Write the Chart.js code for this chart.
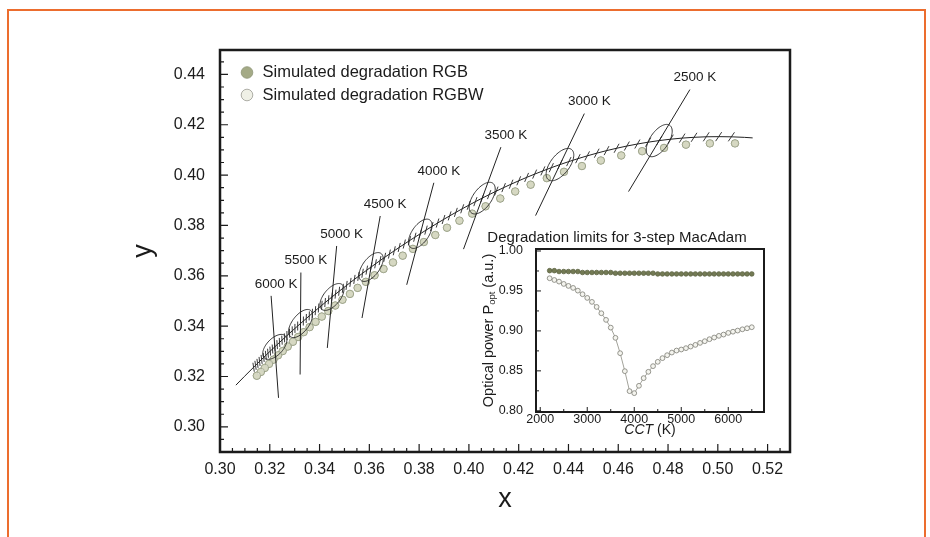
<!DOCTYPE html>
<html>
<head>
<meta charset="utf-8">
<script src="https://cdn.jsdelivr.net/npm/chart.js@4.4.0/dist/chart.umd.min.js"></script>
<style>
  html, body { margin: 0; padding: 0; background: #fff; }
  #page { position: relative; width: 930px; height: 537px; overflow: hidden; }
  #frame { position: absolute; left: 7px; top: 9px; width: 915px; height: 600px; border: 2px solid #ec6d2e; border-bottom: none; z-index: 5; pointer-events: none; }
  #main { position: absolute; left: 0; top: 0; }
  #inset { position: absolute; left: 470px; top: 220px; }
</style>
</head>
<body>
<div id="page">
  <canvas id="main" width="930" height="537"></canvas>
  <canvas id="inset" width="376" height="225"></canvas>
  <div id="frame"></div>
</div>
<script>
// Planckian locus (CIE 1931 x, y), 50 K steps, plus the two end points of the drawn line
const locusCct = [
  2100, 2150, 2200, 2250, 2300, 2350, 2400, 2450, 2500, 2550, 2600, 2650, 2700, 2750, 2800, 2850,
  2900, 2950, 3000, 3050, 3100, 3150, 3200, 3250, 3300, 3350, 3400, 3450, 3500, 3550, 3600, 3650,
  3700, 3750, 3800, 3850, 3900, 3950, 4000, 4050, 4100, 4150, 4200, 4250, 4300, 4350, 4400, 4450,
  4500, 4550, 4600, 4650, 4700, 4750, 4800, 4850, 4900, 4950, 5000, 5050, 5100, 5150, 5200, 5250,
  5300, 5350, 5400, 5450, 5500, 5550, 5600, 5650, 5700, 5750, 5800, 5850, 5900, 5950, 6000, 6050,
  6100, 6150, 6200, 6250, 6300, 6350, 6400, 6450, 6500, 6750, 7000
];
const locusX = [
  0.51400, 0.51066, 0.50545, 0.50034, 0.49534, 0.49045, 0.48568, 0.48101, 0.47646, 0.47201, 0.46768, 0.46344, 0.45932, 0.45529, 0.45136, 0.44752,
  0.44379, 0.44014, 0.43658, 0.43311, 0.42972, 0.42641, 0.42318, 0.42003, 0.41695, 0.41395, 0.41101, 0.40814, 0.40534, 0.40260, 0.39993, 0.39731,
  0.39475, 0.39225, 0.38980, 0.38741, 0.38507, 0.38277, 0.38046, 0.37827, 0.37613, 0.37404, 0.37200, 0.37001, 0.36806, 0.36616, 0.36430, 0.36249,
  0.36071, 0.35897, 0.35728, 0.35562, 0.35400, 0.35241, 0.35086, 0.34935, 0.34786, 0.34641, 0.34499, 0.34360, 0.34224, 0.34091, 0.33961, 0.33833,
  0.33708, 0.33586, 0.33466, 0.33349, 0.33234, 0.33121, 0.33011, 0.32903, 0.32796, 0.32692, 0.32590, 0.32490, 0.32392, 0.32296, 0.32202, 0.32109,
  0.32018, 0.31929, 0.31842, 0.31756, 0.31672, 0.31589, 0.31507, 0.31428, 0.31350, 0.30978, 0.30638
];
const locusY = [
  0.41478, 0.41500, 0.41521, 0.41528, 0.41522, 0.41502, 0.41470, 0.41426, 0.41372, 0.41308, 0.41235, 0.41154, 0.41066, 0.40972, 0.40871, 0.40764,
  0.40653, 0.40537, 0.40418, 0.40295, 0.40168, 0.40039, 0.39908, 0.39775, 0.39639, 0.39503, 0.39364, 0.39225, 0.39085, 0.38945, 0.38803, 0.38662,
  0.38520, 0.38379, 0.38237, 0.38096, 0.37954, 0.37814, 0.37669, 0.37532, 0.37396, 0.37261, 0.37127, 0.36994, 0.36863, 0.36733, 0.36604, 0.36476,
  0.36349, 0.36224, 0.36100, 0.35978, 0.35857, 0.35737, 0.35618, 0.35502, 0.35386, 0.35271, 0.35159, 0.35047, 0.34937, 0.34828, 0.34721, 0.34615,
  0.34510, 0.34406, 0.34304, 0.34203, 0.34104, 0.34005, 0.33909, 0.33813, 0.33719, 0.33625, 0.33534, 0.33443, 0.33353, 0.33265, 0.33177, 0.33091,
  0.33007, 0.32923, 0.32840, 0.32758, 0.32678, 0.32598, 0.32520, 0.32443, 0.32366, 0.31999, 0.31655
];

// 3-step MacAdam ellipses at the labelled CCTs (semi-axes in xy units, angle in degrees)
const isoCct = [6000, 5500, 5000, 4500, 4000, 3500, 3000, 2500];
const macAdamA = [0.0061, 0.0066, 0.0064, 0.0067, 0.0067, 0.0073, 0.0076, 0.0074];
const macAdamB = [0.0033, 0.0033, 0.0033, 0.0034, 0.0034, 0.0037, 0.0038, 0.0037];
const macAdamTheta = [46, 52, 50, 53, 55, 54, 52, 55];

// simulated degraded chromaticities (RGB and RGBW coincide)
const degradedCct = [
  2200, 2300, 2400, 2500, 2600, 2700, 2800, 2900, 3000, 3100, 3200, 3300, 3400, 3500, 3600, 3700,
  3800, 3900, 4000, 4100, 4200, 4300, 4400, 4500, 4600, 4700, 4800, 4900, 5000, 5100, 5200, 5300,
  5400, 5500, 5600, 5700, 5800, 5900, 6000, 6100, 6200, 6300, 6400, 6500
];
const degradedX = [
  0.5069, 0.4968, 0.4872, 0.4784, 0.4696, 0.4612, 0.4530, 0.4454, 0.4382, 0.4313, 0.4248, 0.4186, 0.4126, 0.4067, 0.4013, 0.3962,
  0.3912, 0.3865, 0.3819, 0.3775, 0.3734, 0.3695, 0.3657, 0.3621, 0.3586, 0.3553, 0.3522, 0.3492, 0.3463, 0.3435, 0.3409, 0.3384,
  0.3360, 0.3336, 0.3314, 0.3293, 0.3272, 0.3252, 0.3233, 0.3215, 0.3197, 0.3180, 0.3164, 0.3148
];
const degradedY = [
  0.4126, 0.4126, 0.4121, 0.4108, 0.4095, 0.4078, 0.4058, 0.4036, 0.4013, 0.3988, 0.3962, 0.3935, 0.3907, 0.3876, 0.3847, 0.3819,
  0.3791, 0.3762, 0.3734, 0.3707, 0.3680, 0.3653, 0.3627, 0.3602, 0.3576, 0.3552, 0.3528, 0.3505, 0.3482, 0.3460, 0.3438, 0.3417,
  0.3396, 0.3376, 0.3357, 0.3338, 0.3319, 0.3301, 0.3284, 0.3267, 0.3250, 0.3234, 0.3218, 0.3203
];

// inset: optical power at the 3-step limit
const rgbPower = [
  0.9754, 0.9754, 0.9743, 0.9743, 0.9743, 0.9743, 0.9743, 0.9731, 0.9731, 0.9731, 0.9731, 0.9731, 0.9731, 0.9731, 0.9722, 0.9722,
  0.9722, 0.9722, 0.9722, 0.9722, 0.9722, 0.9722, 0.9722, 0.9713, 0.9713, 0.9713, 0.9713, 0.9713, 0.9713, 0.9713, 0.9713, 0.9713,
  0.9713, 0.9713, 0.9713, 0.9713, 0.9713, 0.9713, 0.9713, 0.9713, 0.9713, 0.9713, 0.9713, 0.9713
];
const rgbwPower = [
  0.9659, 0.9637, 0.9617, 0.9588, 0.9563, 0.9538, 0.9504, 0.9459, 0.9413, 0.9363, 0.9300, 0.9221, 0.9138, 0.9041, 0.8913, 0.8721,
  0.8496, 0.8246, 0.8221, 0.8313, 0.8409, 0.8488, 0.8559, 0.8613, 0.8659, 0.8696, 0.8729, 0.8754, 0.8767, 0.8784, 0.8804, 0.8825,
  0.8850, 0.8871, 0.8896, 0.8917, 0.8938, 0.8954, 0.8975, 0.8990, 0.9004, 0.9020, 0.9033, 0.9046
];

const xTicks = [0.30, 0.32, 0.34, 0.36, 0.38, 0.40, 0.42, 0.44, 0.46, 0.48, 0.50, 0.52];
const yTicks = [0.30, 0.32, 0.34, 0.36, 0.38, 0.40, 0.42, 0.44];
const insetXTicks = [2000, 3000, 4000, 5000, 6000];
const insetYTicks = [0.80, 0.85, 0.90, 0.95, 1.00];

const family = "'Liberation Sans', Arial, Helvetica, sans-serif";
const INK = '#1b1b1b';
Chart.defaults.font.family = family;
Chart.defaults.color = INK;

// CIE 1931 xy <-> CIE 1960 uv
function toUV(x, y) {
  const d = -2 * x + 12 * y + 3;
  return [4 * x / d, 6 * y / d];
}
function toXY(u, v) {
  const d = 2 * u - 8 * v + 4;
  return [3 * u / d, 2 * v / d];
}

// isotemperature direction at locus point i (normal to the locus in uv), in pixels
function isoDir(i, xs, ys) {
  const p = toUV(locusX[i - 1], locusY[i - 1]);
  const q = toUV(locusX[i + 1], locusY[i + 1]);
  const c = toUV(locusX[i], locusY[i]);
  let nu = -(q[1] - p[1]);
  let nv = q[0] - p[0];
  if (nv < 0) { nu = -nu; nv = -nv; }
  const len = Math.hypot(nu, nv);
  const n = toXY(c[0] + nu / len * 0.003, c[1] + nv / len * 0.003);
  const x0 = xs.getPixelForValue(locusX[i]);
  const y0 = ys.getPixelForValue(locusY[i]);
  return { x0, y0, dx: xs.getPixelForValue(n[0]) - x0, dy: ys.getPixelForValue(n[1]) - y0 };
}

// ticks pointing into the plot, and the box around it
const insideTicks = {
  id: 'insideTicks',
  afterDraw(chart, args, o) {
    const { ctx, chartArea: a } = chart;
    const xs = chart.scales.x, ys = chart.scales.y;
    const each = (scale, minor, major, fn) => {
      for (let k = Math.ceil(scale.min / minor - 1e-9); k * minor <= scale.max + 1e-9; k++) {
        const r = k * minor / major;
        fn(scale.getPixelForValue(k * minor), Math.abs(r - Math.round(r)) < 1e-6);
      }
    };
    ctx.save();
    ctx.strokeStyle = INK;
    ctx.lineWidth = o.tickWidth;
    ctx.beginPath();
    each(xs, o.xMinor, o.xMajor, (p, big) => {
      ctx.moveTo(p, a.bottom);
      ctx.lineTo(p, a.bottom - (big ? o.major : o.minor));
    });
    each(ys, o.yMinor, o.yMajor, (p, big) => {
      ctx.moveTo(a.left, p);
      ctx.lineTo(a.left + (big ? o.major : o.minor), p);
    });
    ctx.stroke();
    ctx.lineWidth = o.frameWidth;
    ctx.strokeRect(a.left, a.top, a.width, a.height);
    ctx.restore();
  }
};

// hatch marks, MacAdam ellipses, isotemperature lines, labels and legend
const chromaticity = {
  id: 'chromaticity',
  afterDatasetsDraw(chart, args, o) {
    const { ctx } = chart;
    const xs = chart.scales.x, ys = chart.scales.y;
    ctx.save();
    ctx.strokeStyle = '#222';

    ctx.lineWidth = 0.9;
    ctx.beginPath();
    locusCct.forEach((t, i) => {
      if (t < 2200 || t > 6500) return;
      const d = isoDir(i, xs, ys);
      const k = 4.5 / Math.abs(d.dy);
      ctx.moveTo(d.x0 - d.dx * k, d.y0 - d.dy * k);
      ctx.lineTo(d.x0 + d.dx * k, d.y0 + d.dy * k);
    });
    ctx.stroke();

    ctx.font = `13.5px ${family}`;
    ctx.fillStyle = INK;
    ctx.textAlign = 'center';
    ctx.textBaseline = 'middle';
    isoCct.forEach((t, j) => {
      const i = locusCct.indexOf(t);
      const cx = locusX[i], cy = locusY[i];
      const th = macAdamTheta[j] * Math.PI / 180;
      ctx.lineWidth = 0.9;
      ctx.beginPath();
      for (let s = 0; s <= 72; s++) {
        const w = s / 72 * 2 * Math.PI;
        const ex = cx + macAdamA[j] * Math.cos(th) * Math.cos(w) - macAdamB[j] * Math.sin(th) * Math.sin(w);
        const ey = cy + macAdamA[j] * Math.sin(th) * Math.cos(w) + macAdamB[j] * Math.cos(th) * Math.sin(w);
        const px = xs.getPixelForValue(ex), py = ys.getPixelForValue(ey);
        if (s === 0) ctx.moveTo(px, py); else ctx.lineTo(px, py);
      }
      ctx.stroke();

      const d = isoDir(i, xs, ys);
      const k = 51 / Math.abs(d.dy);
      ctx.lineWidth = 1;
      ctx.beginPath();
      ctx.moveTo(d.x0 - d.dx * k, d.y0 - d.dy * k);
      ctx.lineTo(d.x0 + d.dx * k, d.y0 + d.dy * k);
      ctx.stroke();
      ctx.fillText(`${t} K`, d.x0 + d.dx * k + 5, d.y0 + d.dy * k - 12);
    });

    ctx.font = `16.5px ${family}`;
    ctx.textAlign = 'left';
    o.legend.forEach((item, n) => {
      const y = o.legendTop + n * o.legendGap;
      ctx.beginPath();
      ctx.arc(o.legendLeft, y, 5.8, 0, 2 * Math.PI);
      ctx.fillStyle = item.fill;
      ctx.fill();
      ctx.lineWidth = 0.8;
      ctx.strokeStyle = item.stroke;
      ctx.stroke();
      ctx.fillStyle = INK;
      ctx.fillText(chart.data.datasets[item.dataset].label, o.legendLeft + 15.5, y);
    });
    ctx.restore();
  }
};

const degraded = degradedCct.map((t, i) => ({ x: degradedX[i], y: degradedY[i] }));

new Chart(document.getElementById('main'), {
  type: 'scatter',
  plugins: [chromaticity, insideTicks],
  data: {
    datasets: [
      {
        label: 'Planckian locus',
        data: locusCct.map((t, i) => ({ x: locusX[i], y: locusY[i] })),
        showLine: true,
        pointRadius: 0,
        borderColor: '#222',
        borderWidth: 1,
      },
      {
        label: 'Simulated degradation RGBW',
        data: degraded,
        pointRadius: 3.7,
        backgroundColor: 'rgba(242,243,231,0.55)',
        borderColor: 'rgba(120,128,100,0.55)',
        borderWidth: 0.8,
      },
      {
        label: 'Simulated degradation RGB',
        data: degraded,
        pointRadius: 3.7,
        backgroundColor: '#b3b996',
        borderColor: '#959c7b',
        borderWidth: 0.8,
      },
    ],
  },
  options: {
    responsive: false,
    devicePixelRatio: 1,
    animation: false,
    layout: { padding: { left: 123, top: 50, right: 140, bottom: 17 } },
    scales: {
      x: {
        type: 'linear',
        min: 0.30,
        max: 0.529,
        afterBuildTicks: (s) => { s.ticks = xTicks.map((v) => ({ value: v })); },
        afterFit: (s) => { s.height = 68; },
        grid: { display: false, drawTicks: false },
        border: { display: false },
        ticks: { padding: 8, autoSkip: false, maxRotation: 0, font: { size: 16 }, callback: (v) => v.toFixed(2) },
        title: { display: true, text: 'x', font: { size: 27, lineHeight: 1.2 }, padding: { top: 4, bottom: 4 } },
      },
      y: {
        type: 'linear',
        min: 0.29,
        max: 0.4497,
        afterBuildTicks: (s) => { s.ticks = yTicks.map((v) => ({ value: v })); },
        afterFit: (s) => { s.width = 97; },
        grid: { display: false, drawTicks: false },
        border: { display: false },
        ticks: { padding: 15, autoSkip: false, font: { size: 16 }, callback: (v) => v.toFixed(2) },
        title: { display: true, text: 'y', font: { size: 27, lineHeight: 1.2 }, padding: { top: 4, bottom: 4 } },
      },
    },
    plugins: {
      legend: { display: false },
      tooltip: { enabled: false },
      insideTicks: { xMinor: 0.005, xMajor: 0.02, yMinor: 0.005, yMajor: 0.02, major: 8, minor: 4, tickWidth: 1.2, frameWidth: 2.5 },
      chromaticity: {
        legendLeft: 247,
        legendTop: 72.5,
        legendGap: 22.5,
        legend: [
          { dataset: 2, fill: '#a4aa86', stroke: '#8c9373' },
          { dataset: 1, fill: '#eff0e6', stroke: '#9a9b92' },
        ],
      },
    },
  },
});

// inset axis titles (with subscript and italics)
const insetTitles = {
  id: 'insetTitles',
  afterDraw(chart) {
    const { ctx, chartArea: a } = chart;
    ctx.save();
    ctx.fillStyle = INK;
    ctx.textBaseline = 'middle';
    ctx.textAlign = 'left';
    const italic = `italic 14px ${family}`, plain = `14px ${family}`;
    ctx.font = italic;
    const w1 = ctx.measureText('CCT').width;
    ctx.font = plain;
    const w2 = ctx.measureText(' (K)').width;
    const x0 = (a.left + a.right) / 2 - (w1 + w2) / 2;
    ctx.font = italic;
    ctx.fillText('CCT', x0, a.bottom + 18);
    ctx.font = plain;
    ctx.fillText(' (K)', x0 + w1, a.bottom + 18);

    const parts = [['Optical power P', 14.5, 0], ['opt', 9.5, 3.5], [' (a.u.)', 14.5, 0]];
    const widths = parts.map(([s, size]) => { ctx.font = `${size}px ${family}`; return ctx.measureText(s).width; });
    const total = widths.reduce((p, q) => p + q, 0);
    ctx.translate(a.left - 47, (a.top + a.bottom) / 2);
    ctx.rotate(-Math.PI / 2);
    let x = -total / 2;
    parts.forEach(([s, size, drop], n) => {
      ctx.font = `${size}px ${family}`;
      ctx.fillText(s, x, drop);
      x += widths[n];
    });
    ctx.restore();
  }
};

new Chart(document.getElementById('inset'), {
  type: 'scatter',
  plugins: [insetTitles, insideTicks],
  data: {
    datasets: [
      {
        label: 'RGB',
        data: degradedCct.map((t, i) => ({ x: t, y: rgbPower[i] })),
        showLine: true,
        borderColor: '#6f7650',
        borderWidth: 1,
        pointRadius: 2.3,
        pointBackgroundColor: '#737a54',
        pointBorderColor: '#5e6544',
        pointBorderWidth: 0.8,
      },
      {
        label: 'RGBW',
        data: degradedCct.map((t, i) => ({ x: t, y: rgbwPower[i] })),
        showLine: true,
        borderColor: '#a3a39b',
        borderWidth: 1,
        pointRadius: 2.4,
        pointBackgroundColor: '#f4f4ee',
        pointBorderColor: '#8a8a82',
        pointBorderWidth: 0.9,
      },
    ],
  },
  options: {
    responsive: false,
    devicePixelRatio: 1,
    animation: false,
    layout: { padding: { left: 0, top: 0, right: 82, bottom: 0 } },
    scales: {
      x: {
        type: 'linear',
        min: 1910,
        max: 6760,
        afterBuildTicks: (s) => { s.ticks = insetXTicks.map((v) => ({ value: v })); },
        afterFit: (s) => { s.height = 33; },
        grid: { display: false, drawTicks: false },
        border: { display: false },
        ticks: { padding: 0, autoSkip: false, maxRotation: 0, font: { size: 12.5 }, callback: (v) => String(v) },
      },
      y: {
        type: 'linear',
        min: 0.7985,
        max: 1.0025,
        afterBuildTicks: (s) => { s.ticks = insetYTicks.map((v) => ({ value: v })); },
        afterFit: (s) => { s.width = 66; },
        grid: { display: false, drawTicks: false },
        border: { display: false },
        ticks: { padding: 13, autoSkip: false, font: { size: 12.5 }, callback: (v) => v.toFixed(2) },
      },
    },
    plugins: {
      legend: { display: false },
      tooltip: { enabled: false },
      title: {
        display: true,
        text: 'Degradation limits for 3-step MacAdam',
        font: { size: 15, weight: 'normal', lineHeight: 1.2 },
        color: INK,
        padding: { top: 9, bottom: 2 },
      },
      insideTicks: { xMinor: 500, xMajor: 1000, yMinor: 0.025, yMajor: 0.05, major: 5, minor: 3, tickWidth: 1, frameWidth: 2 },
    },
  },
});
</script>
</body>
</html>
